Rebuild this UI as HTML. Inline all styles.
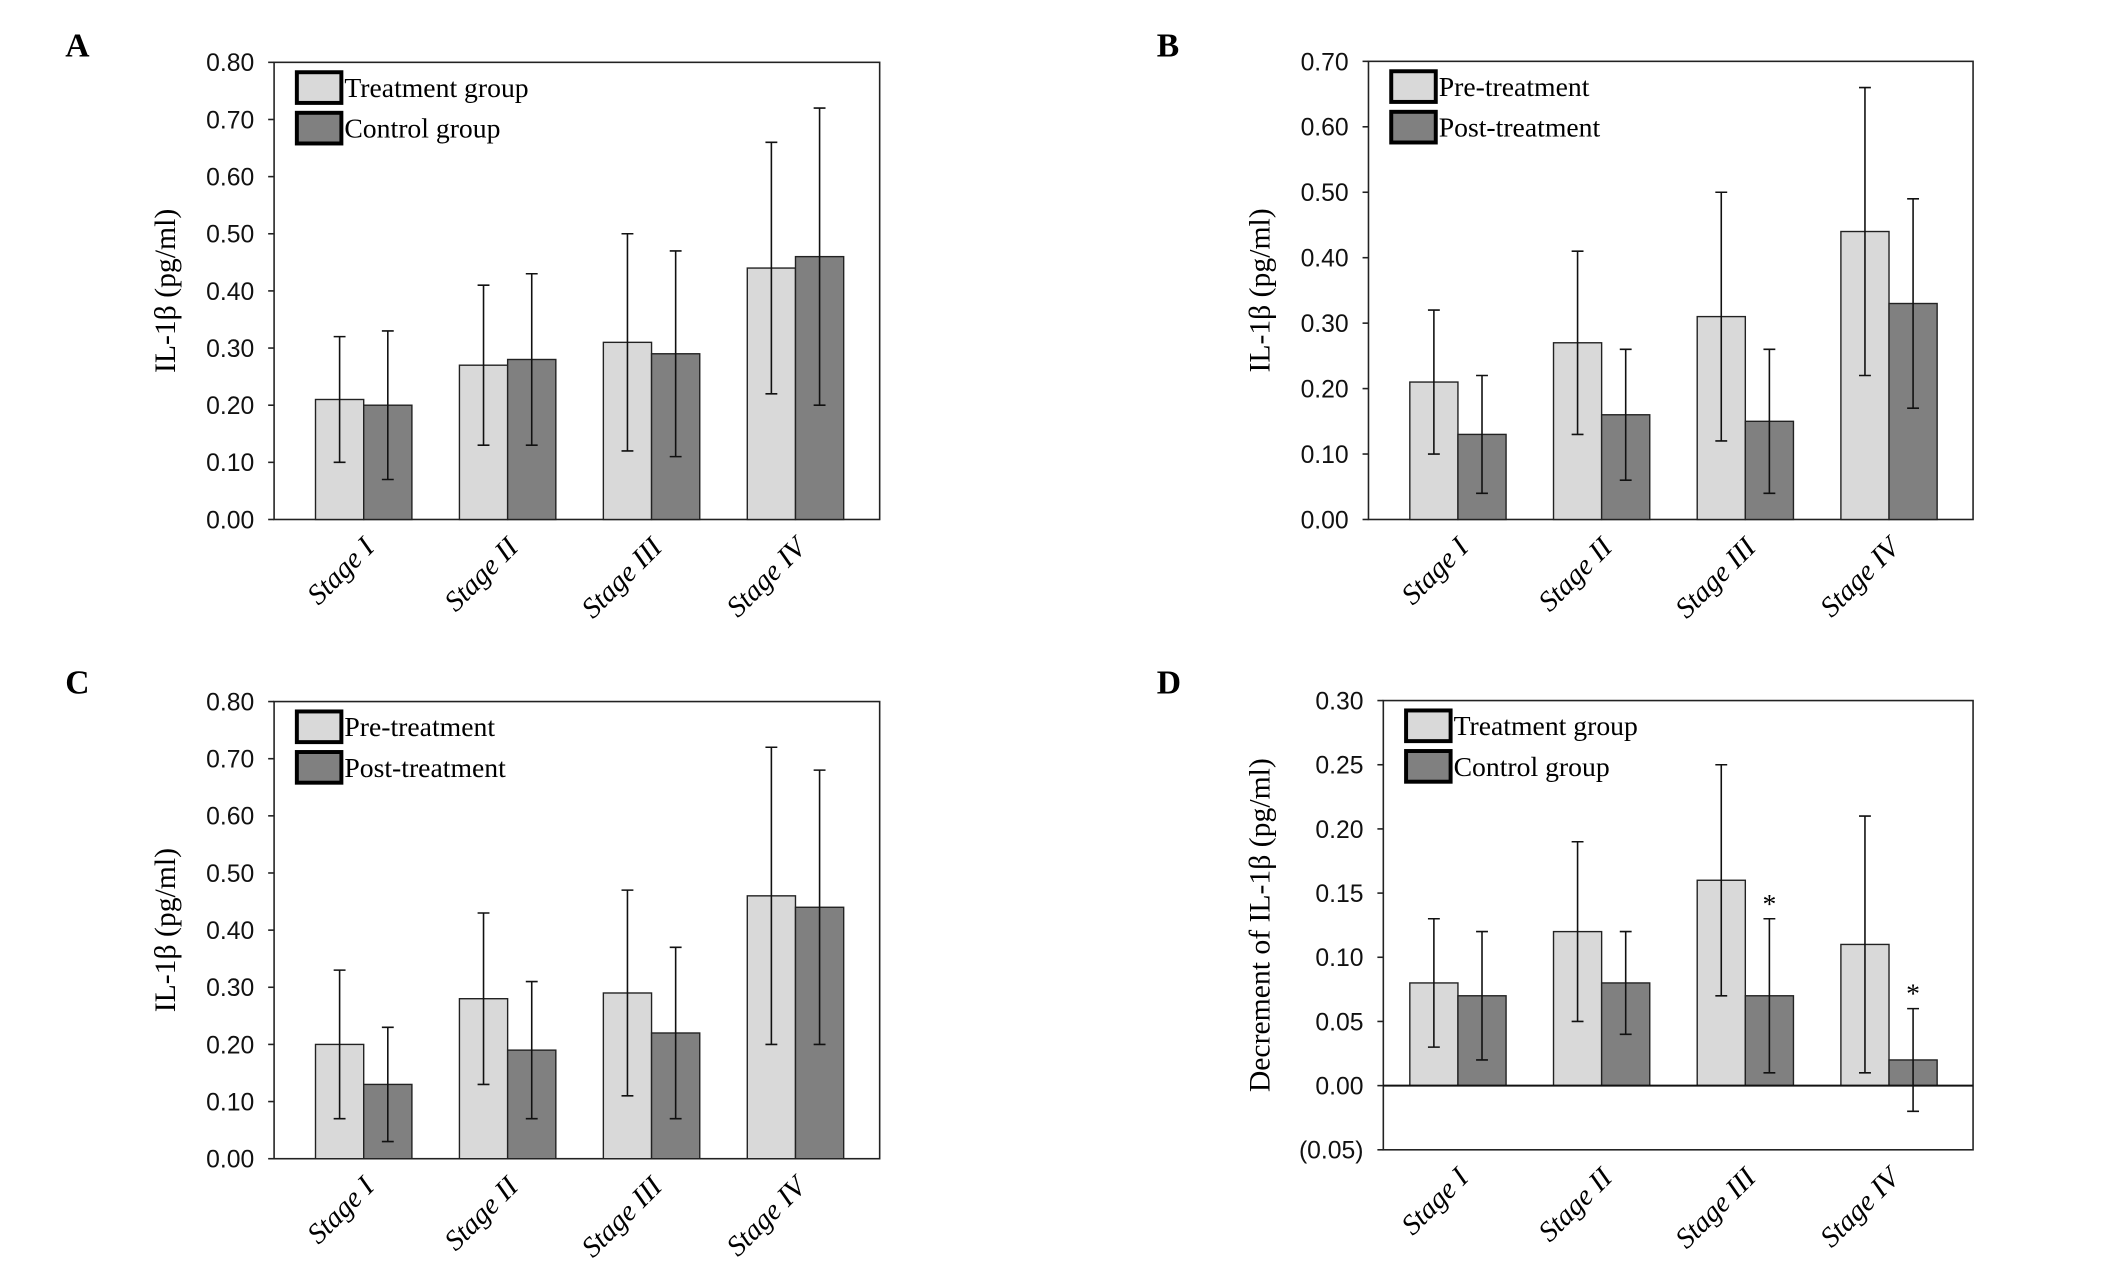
<!DOCTYPE html>
<html><head><meta charset="utf-8"><style>
html,body{margin:0;padding:0;background:#fff}
svg{display:block}
.tick{font-family:"Liberation Sans",sans-serif;font-size:25px;fill:#111}
.serif{font-family:"Liberation Serif",serif}
</style></head><body>
<svg id="fig" width="2126" height="1272" viewBox="0 0 2126 1272" xmlns="http://www.w3.org/2000/svg">
<g id="root" transform="scale(0.9895)">
<text x="66" y="57" class="serif" font-size="34" font-weight="bold">A</text>
<text x="1169" y="57" class="serif" font-size="34" font-weight="bold">B</text>
<text x="66" y="701" class="serif" font-size="34" font-weight="bold">C</text>
<text x="1169" y="701" class="serif" font-size="34" font-weight="bold">D</text>
</g>
</svg>
<script>
const categories = ["Stage I","Stage II","Stage III","Stage IV"];
// Panel A
const aSeries1 = [0.21,0.27,0.31,0.44];
const aLow1 = [0.10,0.13,0.12,0.22];
const aHigh1 = [0.32,0.41,0.50,0.66];
const aSeries2 = [0.20,0.28,0.29,0.46];
const aLow2 = [0.07,0.13,0.11,0.20];
const aHigh2 = [0.33,0.43,0.47,0.72];
const aTicks = ["0.00","0.10","0.20","0.30","0.40","0.50","0.60","0.70","0.80"];
// Panel B
const bSeries1 = [0.21,0.27,0.31,0.44];
const bLow1 = [0.10,0.13,0.12,0.22];
const bHigh1 = [0.32,0.41,0.50,0.66];
const bSeries2 = [0.13,0.16,0.15,0.33];
const bLow2 = [0.04,0.06,0.04,0.17];
const bHigh2 = [0.22,0.26,0.26,0.49];
const bTicks = ["0.00","0.10","0.20","0.30","0.40","0.50","0.60","0.70"];
// Panel C
const cSeries1 = [0.20,0.28,0.29,0.46];
const cLow1 = [0.07,0.13,0.11,0.20];
const cHigh1 = [0.33,0.43,0.47,0.72];
const cSeries2 = [0.13,0.19,0.22,0.44];
const cLow2 = [0.03,0.07,0.07,0.20];
const cHigh2 = [0.23,0.31,0.37,0.68];
const cTicks = ["0.00","0.10","0.20","0.30","0.40","0.50","0.60","0.70","0.80"];
// Panel D
const dSeries1 = [0.08,0.12,0.16,0.11];
const dLow1 = [0.03,0.05,0.07,0.01];
const dHigh1 = [0.13,0.19,0.25,0.21];
const dSeries2 = [0.07,0.08,0.07,0.02];
const dLow2 = [0.02,0.04,0.01,-0.02];
const dHigh2 = [0.12,0.12,0.13,0.06];
const dStars = [false,false,true,true];
const dTicks = ["(0.05)","0.00","0.05","0.10","0.15","0.20","0.25","0.30"];
const dTickVals = [-0.05,0,0.05,0.10,0.15,0.20,0.25,0.30];

const NS="http://www.w3.org/2000/svg";
const root=document.getElementById('root');
function mk(tag,attrs,parent){const e=document.createElementNS(NS,tag);for(const k in attrs)e.setAttribute(k,attrs[k]);(parent||root).appendChild(e);return e;}

function panel(p){
  const g=mk('g',{});
  
  
  const y=v=>p.bottom-(v-p.ymin)/(p.ymax-p.ymin)*(p.bottom-p.top);
  const W=p.right-p.left;
  const bl=p.barLeft||p.left, BW=p.right-bl;
  const cx=i=>bl+(66+i*106)/446*BW;
  const bw=35.5/446*BW;
  const y0=y(0);
  const fr=mk('rect',{x:p.left,y:p.top,width:W,height:p.bottom-p.top,fill:'none',stroke:'#222','stroke-width':1.6},g);
  
  
  p.ticks.forEach((t,i)=>{
    const v=p.tickVals?p.tickVals[i]:parseFloat(t);
    const ty=y(v);
    const tk=mk('line',{x1:p.left-6,x2:p.left,y1:ty,y2:ty,stroke:'#222','stroke-width':1.6},g);
    
    
    const tx=mk('text',{x:p.left-20,y:ty+9,'text-anchor':'end',class:'tick',fill:t.startsWith('(')?'#666':'#111'},g);
    tx.textContent=t;
    
    
  });
  [[p.s1,p.l1,p.h1,'#d9d9d9',-1],[p.s2,p.l2,p.h2,'#808080',0]].forEach((s,si)=>{
    s[0].forEach((v,i)=>{
      const x=cx(i)+s[4]*bw;
      const r=mk('rect',{x:x,y:Math.min(y(v),y0),width:bw,height:Math.abs(y0-y(v)),fill:s[3],stroke:'#222','stroke-width':1.4},g);
      
      
      const mx=x+bw/2;
      const eb=mk('path',{d:`M${mx},${y(s[1][i])}V${y(s[2][i])}M${mx-6},${y(s[1][i])}H${mx+6}M${mx-6},${y(s[2][i])}H${mx+6}`,stroke:'#111','stroke-width':1.6,fill:'none'},g);
      
      
      if(si===1&&p.stars&&p.stars[i]){
        const st=mk('text',{x:mx,y:y(s[2][i])-6,'text-anchor':'middle',class:'serif','font-size':28},g);
        st.textContent='*';
        
        
      }
    });
  });
  if(p.ymin<0){
    const zl=mk('line',{x1:p.left,x2:p.right,y1:y0,y2:y0,stroke:'#111','stroke-width':2},g);
    
    
  }
  categories.forEach((c,i)=>{
    const x=cx(i)+12, ly=p.bottom+30;
    const t=mk('text',{x:x,y:ly,'text-anchor':'end',class:'serif','font-size':29,'font-style':'italic',transform:`rotate(-45 ${x} ${ly})`},g);
    t.textContent=c;
    
    
  });
  const ym=(p.top+p.bottom)/2;
  const yt=mk('text',{x:p.titleX,y:ym,'text-anchor':'middle',class:'serif','font-size':30,transform:`rotate(-90 ${p.titleX} ${ym})`},g);
  yt.textContent=p.title;
  
  
  p.legend.forEach((l,i)=>{
    const ly=p.top+10+i*41;
    const b=mk('rect',{x:p.left+23,y:ly,width:45,height:31,fill:i?'#808080':'#d9d9d9',stroke:'#000','stroke-width':4},g);
    
    
    const t=mk('text',{x:p.left+71,y:ly+25,class:'serif','font-size':28},g);
    t.textContent=l;
    
    
  });
}
const yTitle='IL-1\u03b2 (pg/ml)';
panel({id:'a',left:277,right:889,top:63,bottom:525,ymin:0,ymax:0.8,ticks:aTicks,s1:aSeries1,l1:aLow1,h1:aHigh1,s2:aSeries2,l2:aLow2,h2:aHigh2,title:yTitle,titleX:177,legend:['Treatment group','Control group']});
panel({id:'b',left:1383,right:1994,top:62,bottom:525,ymin:0,ymax:0.7,ticks:bTicks,s1:bSeries1,l1:bLow1,h1:bHigh1,s2:bSeries2,l2:bLow2,h2:bHigh2,title:yTitle,titleX:1283,legend:['Pre-treatment','Post-treatment']});
panel({id:'c',left:277,right:889,top:709,bottom:1171,ymin:0,ymax:0.8,ticks:cTicks,s1:cSeries1,l1:cLow1,h1:cHigh1,s2:cSeries2,l2:cLow2,h2:cHigh2,title:yTitle,titleX:177,legend:['Pre-treatment','Post-treatment']});
panel({id:'d',left:1398,barLeft:1383,right:1994,top:708,bottom:1162,ymin:-0.05,ymax:0.3,ticks:dTicks,tickVals:dTickVals,s1:dSeries1,l1:dLow1,h1:dHigh1,s2:dSeries2,l2:dLow2,h2:dHigh2,stars:dStars,title:'Decrement of IL-1\u03b2 (pg/ml)',titleX:1283,legend:['Treatment group','Control group']});
</script>
</body></html>
